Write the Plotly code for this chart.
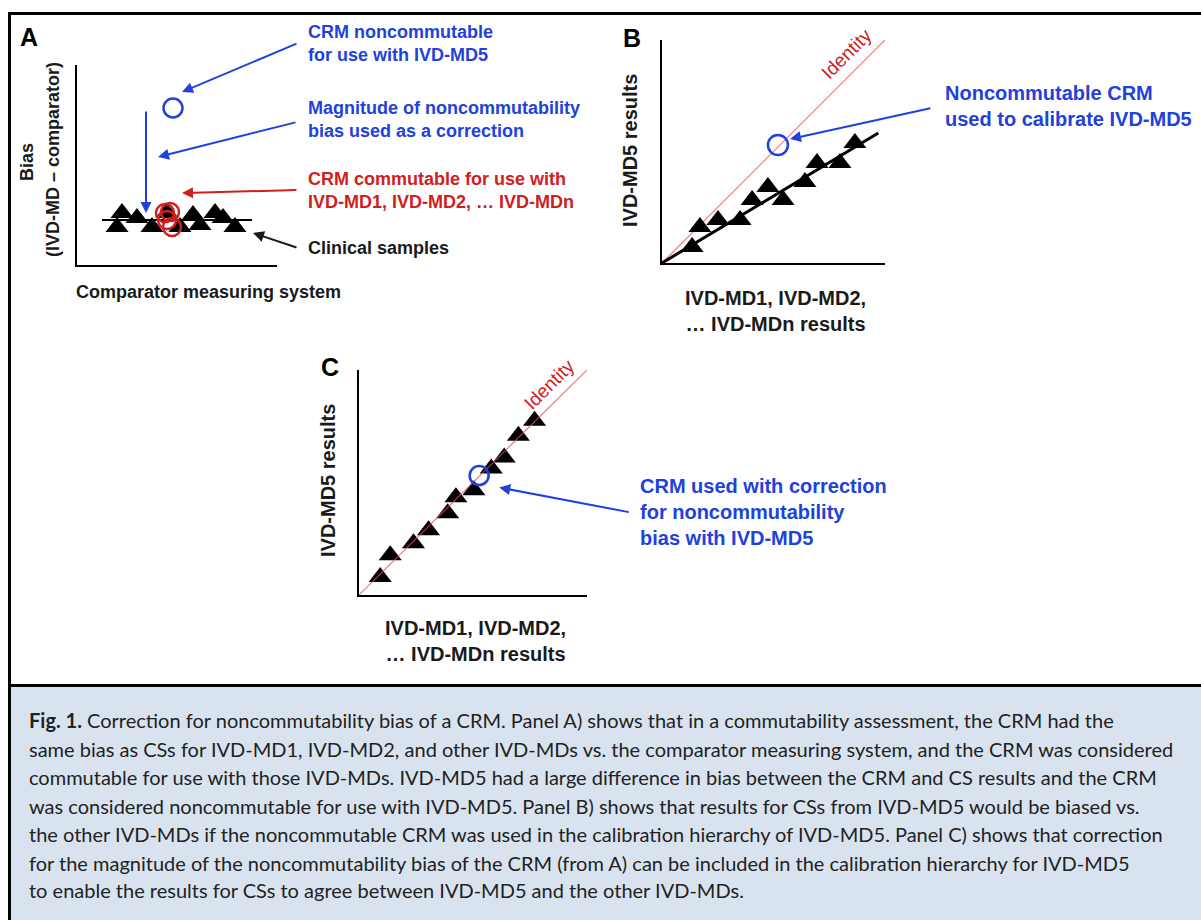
import plotly.graph_objects as go

W, H = 1201, 920

# ---------------- data (axis units 0..10 on every panel) ----------------
# Panel A: bias vs comparator
a_cs_x = [2.0, 2.25, 3.0, 3.75, 4.5, 5.15, 5.8, 6.15, 6.9, 7.3, 7.9]
a_cs_y = [1.9, 2.6, 2.35, 1.9, 2.6, 1.9, 2.5, 2.0, 2.6, 2.35, 1.9]
a_mean_x = [1.25, 8.75]
a_mean_y = [2.25, 2.25]
a_crm_comm_x = [4.4, 4.65, 4.5, 4.75]
a_crm_comm_y = [2.6, 2.65, 2.25, 1.9]
a_crm_noncomm_x = [4.8]
a_crm_noncomm_y = [7.85]
a_correction_x = [3.45, 3.45]      # tail, head
a_correction_y = [7.75, 2.6]

# Panel B: IVD-MD5 vs others, calibrated with noncommutable CRM
b_cs_x = [1.35, 1.70, 2.51, 3.50, 4.04, 4.75, 5.43, 6.41, 6.95, 7.98, 8.65]
b_cs_y = [0.72, 1.61, 1.93, 1.93, 2.83, 3.41, 2.83, 3.63, 4.48, 4.48, 5.38]
b_fit_x = [0, 9.7]
b_fit_y = [0, 5.83]
b_crm_x = [5.2]
b_crm_y = [5.29]

# Panel C: after correction
c_cs_x = [0.93, 1.37, 2.39, 3.05, 3.89, 4.25, 5.04, 5.80, 6.37, 6.99, 7.70]
c_cs_y = [0.80, 1.77, 2.30, 2.88, 3.63, 4.34, 4.65, 5.62, 6.11, 7.08, 7.74]
c_crm_x = [5.27]
c_crm_y = [5.31]

identity_x = [0, 10]
identity_y = [0, 10]

# callout arrows (axis units of their panel)
arrow_heads_x = [5.25, 4.05, 5.25, 8.8, 5.74, 6.15]
arrow_heads_y = [8.65, 5.4, 3.6, 1.6, 5.56, 4.78]
arrow_tails_x = [11.05, 11.0, 11.05, 11.05, 12.1, 11.9]
arrow_tails_y = [11.1, 7.15, 3.75, 0.85, 6.95, 3.67]
arrow_panels = ["", "", "", "", "2", "3"]

caption_lines = [
    "<b>Fig. 1.</b> Correction for noncommutability bias of a CRM. Panel A) shows that in a commutability assessment, the CRM had the",
    "same bias as CSs for IVD-MD1, IVD-MD2, and other IVD-MDs vs. the comparator measuring system, and the CRM was considered",
    "commutable for use with those IVD-MDs. IVD-MD5 had a large difference in bias between the CRM and CS results and the CRM",
    "was considered noncommutable for use with IVD-MD5. Panel B) shows that results for CSs from IVD-MD5 would be biased vs.",
    "the other IVD-MDs if the noncommutable CRM was used in the calibration hierarchy of IVD-MD5. Panel C) shows that correction",
    "for the magnitude of the noncommutability bias of the CRM (from A) can be included in the calibration hierarchy for IVD-MD5",
    "to enable the results for CSs to agree between IVD-MD5 and the other IVD-MDs.",
]

# ---------------- styling ----------------
BLUE = "#2141dc"
RED = "#d0201e"
IDRED = "rgba(225,80,80,0.75)"
INK = "#1a1a1a"
FONT = "Liberation Sans, Arial, sans-serif"
CAPFONT = "Lato, sans-serif"


def fx(p):
    return p / W


def fy(p):
    return 1 - p / H


fig = go.Figure()

# Panel A
fig.add_trace(go.Scatter(x=a_mean_x, y=a_mean_y, mode="lines",
                         line=dict(color="black", width=2), xaxis="x", yaxis="y"))
fig.add_trace(go.Scatter(x=a_cs_x, y=a_cs_y, mode="markers",
                         marker=dict(symbol="triangle-up", size=20, color="black"),
                         xaxis="x", yaxis="y", cliponaxis=False))
fig.add_trace(go.Scatter(x=a_crm_comm_x, y=a_crm_comm_y, mode="markers",
                         marker=dict(symbol="circle-open", size=18, color=RED, line=dict(width=2.5)),
                         xaxis="x", yaxis="y", cliponaxis=False))
fig.add_trace(go.Scatter(x=a_crm_noncomm_x, y=a_crm_noncomm_y, mode="markers",
                         marker=dict(symbol="circle-open", size=19, color=BLUE, line=dict(width=2.5)),
                         xaxis="x", yaxis="y", cliponaxis=False))

# Panel B
fig.add_trace(go.Scatter(x=identity_x, y=identity_y, mode="lines",
                         line=dict(color=IDRED, width=1.2), xaxis="x2", yaxis="y2"))
fig.add_trace(go.Scatter(x=b_fit_x, y=b_fit_y, mode="lines",
                         line=dict(color="black", width=3), xaxis="x2", yaxis="y2"))
fig.add_trace(go.Scatter(x=b_cs_x, y=b_cs_y, mode="markers",
                         marker=dict(symbol="triangle-up", size=20, color="black"),
                         xaxis="x2", yaxis="y2", cliponaxis=False))
fig.add_trace(go.Scatter(x=b_crm_x, y=b_crm_y, mode="markers",
                         marker=dict(symbol="circle-open", size=20, color=BLUE, line=dict(width=2.5)),
                         xaxis="x2", yaxis="y2", cliponaxis=False))

# Panel C
fig.add_trace(go.Scatter(x=c_cs_x, y=c_cs_y, mode="markers",
                         marker=dict(symbol="triangle-up", size=20, color="black"),
                         xaxis="x3", yaxis="y3", cliponaxis=False))
fig.add_trace(go.Scatter(x=identity_x, y=identity_y, mode="lines",
                         line=dict(color=IDRED, width=1.2), xaxis="x3", yaxis="y3"))
fig.add_trace(go.Scatter(x=c_crm_x, y=c_crm_y, mode="markers",
                         marker=dict(symbol="circle-open", size=19, color=BLUE, line=dict(width=2.5)),
                         xaxis="x3", yaxis="y3", cliponaxis=False))

ax_common = dict(showline=True, linecolor="black", linewidth=2, showgrid=False, zeroline=False,
                 showticklabels=False, ticks="", range=[0, 10], fixedrange=True)

fig.update_layout(
    width=W, height=H, margin=dict(l=0, r=0, t=0, b=0),
    paper_bgcolor="white", plot_bgcolor="rgba(0,0,0,0)", showlegend=False,
    xaxis=dict(domain=[fx(77), fx(277)], anchor="y", **ax_common),
    yaxis=dict(domain=[fy(265), fy(65)], anchor="x", **ax_common),
    xaxis2=dict(domain=[fx(662), fx(885)], anchor="y2", **ax_common),
    yaxis2=dict(domain=[fy(263), fy(40)], anchor="x2", **ax_common),
    xaxis3=dict(domain=[fx(359), fx(587)], anchor="y3", **ax_common),
    yaxis3=dict(domain=[fy(595), fy(370)], anchor="x3", **ax_common),
)

# frame and caption box
fig.add_shape(type="rect", xref="paper", yref="paper", x0=fx(9.5), x1=fx(1210), y0=fy(930), y1=fy(13.5),
              line=dict(color="black", width=3), fillcolor="white", layer="below")
fig.add_shape(type="rect", xref="paper", yref="paper", x0=fx(11), x1=fx(1210), y0=fy(930), y1=fy(686),
              line=dict(width=0), fillcolor="#d9e3f0", layer="below")
fig.add_shape(type="line", xref="paper", yref="paper", x0=fx(9.5), x1=fx(1210), y0=fy(685.5), y1=fy(685.5),
              line=dict(color="black", width=3))

ann = []

# arrows
arrow_colours = [BLUE, BLUE, RED, INK, BLUE, BLUE]
for hx, hy, tx, ty, p, col in zip(arrow_heads_x, arrow_heads_y, arrow_tails_x, arrow_tails_y,
                                  arrow_panels, arrow_colours):
    ann.append(dict(x=hx, y=hy, ax=tx, ay=ty, xref="x" + p, yref="y" + p, axref="x" + p, ayref="y" + p,
                    text="", showarrow=True, arrowhead=2, arrowsize=1.1, arrowwidth=2, arrowcolor=col))
ann.append(dict(x=a_correction_x[1], y=a_correction_y[1], ax=a_correction_x[0], ay=a_correction_y[0],
                xref="x", yref="y", axref="x", ayref="y", text="", showarrow=True,
                arrowhead=2, arrowsize=1.1, arrowwidth=2, arrowcolor=BLUE))


def label(text, x, y, size, color=INK, xanchor="left", angle=0, bold=True, family=FONT):
    t = "<b>%s</b>" % text if bold else text
    ann.append(dict(text=t, x=fx(x), y=fy(y), xref="paper", yref="paper", showarrow=False,
                    xanchor=xanchor, yanchor="middle", align=xanchor if xanchor != "center" else "center",
                    textangle=angle, font=dict(family=family, size=size, color=color)))


# panel letters
label("A", 29, 37, 25, "black", "center")
label("B", 632, 38, 25, "black", "center")
label("C", 330, 367, 25, "black", "center")

# Panel A texts
label("CRM noncommutable<br>for use with IVD-MD5", 306, 43.5, 18, BLUE)
label("Magnitude of noncommutability<br>bias used as a correction", 306, 119.5, 18, BLUE)
label("CRM commutable for use with<br>IVD-MD1, IVD-MD2, … IVD-MDn", 306, 191, 18, RED)
label("Clinical samples", 306, 248, 18, INK)
label("Comparator measuring system", 208, 292, 18, INK, "center")
label("Bias", 27, 162, 18, INK, "center", -90)
label("(IVD-MD – comparator)", 53, 160, 18, INK, "center", -90)

# Panel B texts
label("Noncommutable CRM<br>used to calibrate IVD-MD5", 943, 105.5, 20, BLUE)
label("IVD-MD5 results", 630, 151, 20, INK, "center", -90)
label("IVD-MD1, IVD-MD2,<br>… IVD-MDn results", 775, 311, 20, INK, "center")
label("Identity", 847, 54, 19, RED, "center", -45, bold=False)

# Panel C texts
label("CRM used with correction<br>for noncommutability<br>bias with IVD-MD5", 638, 512, 20, BLUE)
label("IVD-MD5 results", 328, 481, 20, INK, "center", -90)
label("IVD-MD1, IVD-MD2,<br>… IVD-MDn results", 475, 641, 20, INK, "center")
label("Identity", 549, 384, 19, RED, "center", -45, bold=False)

# caption
cap_y = [720, 748.5, 777, 805.5, 834, 862.5, 890]
for line, yy in zip(caption_lines, cap_y):
    label(line, 27, yy, 20, "#222222", "left", 0, bold=False, family=CAPFONT)

fig.update_layout(annotations=ann)

fig.write_html("out.html", config={"displayModeBar": False},
               post_script="document.body.style.margin='0';document.body.style.overflow='hidden';")
